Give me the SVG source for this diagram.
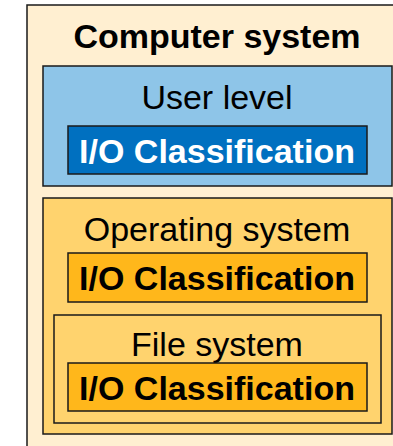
<svg xmlns="http://www.w3.org/2000/svg" width="393" height="446" viewBox="0 0 393 446">
<style>
  text { font-family: "Liberation Sans", Arial, sans-serif; font-size: 34px; text-anchor: middle; }
  .b { font-weight: bold; }
  .box { stroke: #1a1a1a; stroke-width: 1.5; }
</style>
<rect width="393" height="446" fill="#ffffff"/>
<g id="computer-system">
  <rect class="box" x="27" y="5" width="380" height="460" fill="#FFEFD1" stroke="#555"/>
  <text class="b" x="217" y="48">Computer system</text>
</g>
<g id="user-level">
  <rect class="box" x="43" y="66" width="349" height="120" fill="#8EC5E8"/>
  <text x="217" y="109">User level</text>
</g>
<g id="user-io">
  <rect class="box" x="68" y="126" width="299" height="48" fill="#0070C0"/>
  <text class="b" x="217" y="163" fill="#ffffff">I/O Classification</text>
</g>
<g id="operating-system">
  <rect class="box" x="43" y="198" width="349" height="236" fill="#FFD36E"/>
  <text x="217" y="241">Operating system</text>
</g>
<g id="os-io">
  <rect class="box" x="68" y="253" width="299" height="49" fill="#FFB71B"/>
  <text class="b" x="217" y="290">I/O Classification</text>
</g>
<g id="file-system">
  <rect class="box" x="54" y="315" width="327" height="108" fill="#FFD36E"/>
  <text x="217" y="356">File system</text>
</g>
<g id="fs-io">
  <rect class="box" x="68" y="363" width="299" height="48" fill="#FFB71B"/>
  <text class="b" x="217" y="400">I/O Classification</text>
</g>
<g id="connectors"></g>
</svg>
